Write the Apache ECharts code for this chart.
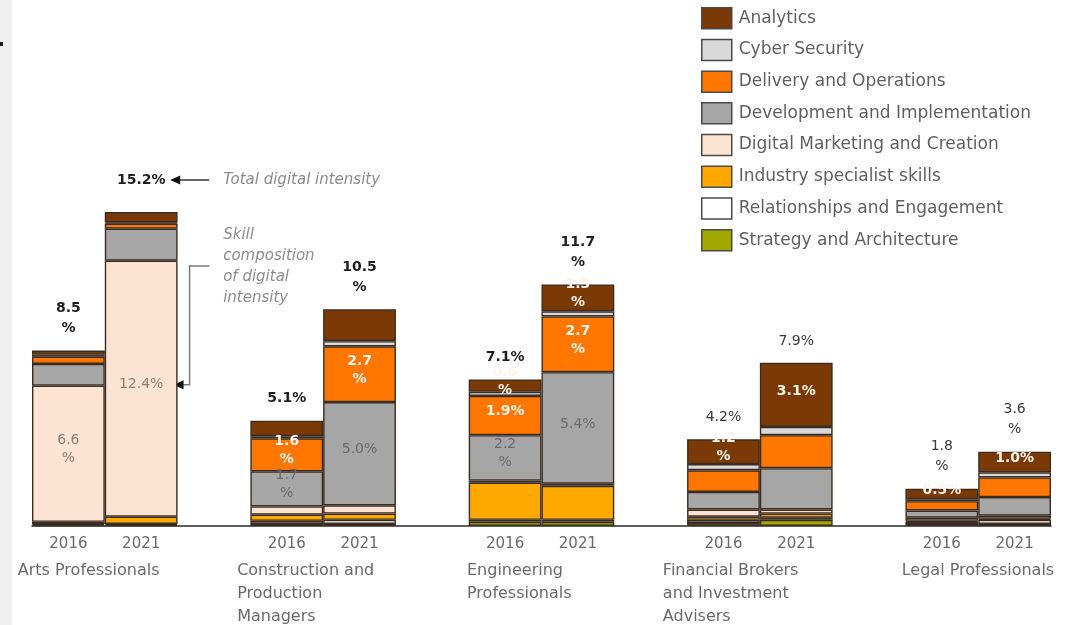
<!DOCTYPE html>
<html>
<head>
<meta charset="utf-8">
<script src="https://cdn.jsdelivr.net/npm/echarts@6/dist/echarts.min.js"></script>
<style>
  html, body { margin: 0; padding: 0; background: #ffffff; }
  #chart { width: 1068px; height: 625px; }
</style>
</head>
<body>
<div id="chart"></div>
<script>
// Occupation groups (tick labels, with their line breaks) and the two survey years
const groups = [
  'Arts Professionals',
  'Construction and\nProduction\nManagers',
  'Engineering\nProfessionals',
  'Financial Brokers\nand Investment\nAdvisers',
  'Legal Professionals'
];
const years = ['2016', '2021'];

// Digital intensity by skill cluster (% of job ads); bars run group by group, 2016 then 2021
const analytics      = [0.2, 0.5, 0.75, 1.55, 0.6, 1.3, 1.2, 3.1, 0.5, 1.0];
const cyberSecurity  = [0.1, 0.05, 0.1, 0.25, 0.2, 0.25, 0.3, 0.4, 0.1, 0.25];
const delivery       = [0.35, 0.25, 1.6, 2.7, 1.9, 2.7, 1.05, 1.6, 0.45, 0.95];
const development    = [1.05, 1.55, 1.7, 5.0, 2.2, 5.4, 0.85, 2.0, 0.35, 0.9];
const digitalMkt     = [6.6, 12.4, 0.4, 0.4, 0.1, 0.1, 0.35, 0.2, 0.15, 0.15];
const industry       = [0.1, 0.35, 0.3, 0.3, 1.8, 1.65, 0.15, 0.2, 0.05, 0.05];
const relationships  = [0.05, 0.05, 0.15, 0.2, 0.1, 0.1, 0.15, 0.1, 0.1, 0.2];
const strategy       = [0.05, 0.05, 0.1, 0.1, 0.2, 0.2, 0.15, 0.3, 0.1, 0.1];

// Stack order, bottom to top
const clusters = [
  { name: 'Strategy and Architecture',       data: strategy,      color: '#A3A800' },
  { name: 'Relationships and Engagement',    data: relationships, color: '#FFFFFF' },
  { name: 'Industry specialist skills',      data: industry,      color: '#FFA800' },
  { name: 'Digital Marketing and Creation',  data: digitalMkt,    color: '#FDE4D2' },
  { name: 'Development and Implementation',  data: development,   color: '#A6A6A6' },
  { name: 'Delivery and Operations',         data: delivery,      color: '#FF7700' },
  { name: 'Cyber Security',                  data: cyberSecurity, color: '#D9D9D9' },
  { name: 'Analytics',                       data: analytics,     color: '#7B3A05' }
];
const legendOrder = [
  'Analytics', 'Cyber Security', 'Delivery and Operations', 'Development and Implementation',
  'Digital Marketing and Creation', 'Industry specialist skills',
  'Relationships and Engagement', 'Strategy and Architecture'
];

// Which segments carry a value label, and whether the % sign drops to a second line
const insideLabels = {
  'Digital Marketing and Creation': { 0: 'wrap', 1: 'flat' },
  'Development and Implementation': { 2: 'wrap', 3: 'flat', 4: 'wrap', 5: 'flat' },
  'Delivery and Operations':        { 2: 'wrap', 3: 'wrap', 4: 'flat', 5: 'wrap' },
  'Analytics':                      { 4: 'wrap', 5: 'wrap', 6: 'wrap', 7: 'flat', 8: 'flat', 9: 'flat' }
};
const insideLabelColor = {
  'Digital Marketing and Creation': '#8e7d72',
  'Development and Implementation': '#6b6b6b',
  'Delivery and Operations': '#FFF3EA',
  'Analytics': '#FFF3EA'
};
const totalWrap = { 0: true, 3: true, 5: true, 8: true, 9: true };
const totalLight = { 6: true, 7: true, 8: true, 9: true };

// Width of the box each group caption is left-aligned in
const captionBox = [174, 172, 149, 194, 153];

// Category slots: two bars per group, an empty slot between groups
const slots = [];
groups.forEach((g, gi) => {
  years.forEach((y, yi) => slots.push({ key: gi + '|' + y, bar: gi * 2 + yi }));
  if (gi < groups.length - 1) slots.push({ key: 'gap' + gi, bar: null });
});
const spread = arr => slots.map(s => (s.bar == null ? null : arr[s.bar]));
const barOfSlot = idx => slots[idx].bar;

const totals = analytics.map((_, i) => clusters.reduce((s, c) => s + c.data[i], 0));

// Edge ticks for the group captions: group centres fall on slot boundaries
const captionTicks = [];
for (let k = 0; k <= slots.length; k++) captionTicks.push('t' + k);
const captionAt = {};
groups.forEach((g, gi) => { captionAt['t' + (gi * 3 + 1)] = gi; });

const fmt = (v, wrap) => v.toFixed(1) + (wrap ? '\n%' : '%');
const FONT = 'DejaVu Sans';

const captionRich = {};
captionBox.forEach((w, gi) => {
  captionRich['g' + gi] = { width: w, align: 'left', fontFamily: FONT, fontSize: 16, lineHeight: 23, color: '#6a6a6a' };
});

const series = clusters.map(c => ({
  name: c.name,
  type: 'bar',
  stack: 'skills',
  barCategoryGap: '0%',
  data: spread(c.data),
  itemStyle: { color: c.color, borderColor: '#3a2c22', borderWidth: 1.4 },
  label: {
    show: !!insideLabels[c.name],
    position: 'inside',
    offset: [0, -4],
    fontFamily: FONT,
    fontSize: 14,
    lineHeight: 18,
    color: insideLabelColor[c.name] || '#333',
    fontWeight: (c.name === 'Analytics' || c.name === 'Delivery and Operations') ? 'bold' : 'normal',
    formatter: p => {
      const spec = insideLabels[c.name];
      const b = barOfSlot(p.dataIndex);
      if (!spec || b == null || !spec[b]) return '';
      return fmt(p.value, spec[b] === 'wrap');
    }
  },
  emphasis: { disabled: true }
}));

// Invisible full-height bar that carries the total label above each stack
series.push({
  name: 'Total digital intensity',
  type: 'bar',
  barGap: '-100%',
  barCategoryGap: '0%',
  z: 1,
  silent: true,
  data: spread(totals).map((v, idx) => {
    if (v == null) return null;
    const b = barOfSlot(idx);
    return {
      value: v,
      label: {
        distance: b === 1 ? 22 : 12,
        fontWeight: totalLight[b] ? 'normal' : 'bold',
        color: totalLight[b] ? '#3a3a3a' : '#1e1e1e'
      }
    };
  }),
  itemStyle: { color: 'rgba(0,0,0,0)' },
  label: {
    show: true,
    position: 'top',
    fontFamily: FONT,
    fontSize: 14,
    lineHeight: 20,
    formatter: p => fmt(p.value, !!totalWrap[barOfSlot(p.dataIndex)])
  },
  emphasis: { disabled: true }
});

const chart = echarts.init(document.getElementById('chart'), null, { renderer: 'canvas' });

chart.setOption({
  backgroundColor: '#ffffff',
  animation: false,
  textStyle: { fontFamily: FONT },
  grid: { left: 32, right: 17, top: 113, bottom: 99 },
  legend: {
    data: legendOrder,
    orient: 'vertical',
    left: 701,
    top: 7,
    padding: 0,
    icon: 'rect',
    itemWidth: 30,
    itemHeight: 21,
    itemGap: 9.2,
    selectedMode: false,
    itemStyle: { borderColor: '#4a4a4a', borderWidth: 1.5 },
    textStyle: { fontFamily: FONT, fontSize: 17, lineHeight: 21, color: '#5f5f5f', padding: [0, 0, 0, 2] }
  },
  xAxis: [
    {
      type: 'category',
      data: slots.map(s => s.key),
      axisLine: { show: true, lineStyle: { color: '#2b2b2b', width: 1.5 } },
      axisTick: { show: false },
      axisLabel: {
        interval: 0,
        margin: 11,
        fontFamily: FONT,
        fontSize: 15,
        color: '#6a6a6a',
        formatter: v => (v.indexOf('|') > 0 ? v.split('|')[1] : '')
      }
    },
    {
      type: 'category',
      position: 'bottom',
      boundaryGap: false,
      data: captionTicks,
      axisLine: { show: false },
      axisTick: { show: false },
      axisLabel: {
        interval: 0,
        margin: 33,
        fontFamily: FONT,
        fontSize: 16,
        color: '#6a6a6a',
        formatter: v => {
          const gi = captionAt[v];
          return gi == null ? '' : '{g' + gi + '|' + groups[gi] + '}';
        },
        rich: captionRich
      }
    }
  ],
  yAxis: { type: 'value', min: 0, max: 20, show: false },
  series: series
});

// Annotations anchored on the Arts Professionals 2021 bar
function annotate() {
  const toPx = (i, v) => chart.convertToPixel({ xAxisIndex: 0, yAxisIndex: 0 }, [i, v]);
  const top = toPx(1, totals[1]);
  const half = (toPx(2, 0)[0] - toPx(1, 0)[0]) / 2;
  const cx = top[0], ty = top[1], right = cx + half;
  const labelY = ty - 32;
  const base = strategy[1] + relationships[1] + industry[1];
  const segY = toPx(1, base + digitalMkt[1] / 2)[1] - 4;
  const grey = '#7a7a7a';
  const note = { fontFamily: FONT, fontSize: 15, fontStyle: 'italic', fill: '#8c8c8c' };

  chart.setOption({
    graphic: [
      { type: 'rect', shape: { x: 0, y: 0, width: 12, height: 625 }, style: { fill: '#efefef' }, silent: true },
      { type: 'rect', shape: { x: 0, y: 42, width: 3, height: 4 }, style: { fill: '#1a1a1a' }, silent: true },
      { type: 'line', shape: { x1: cx + 36, y1: labelY, x2: cx + 68, y2: labelY }, style: { stroke: '#333', lineWidth: 1.5 } },
      { type: 'polygon', shape: { points: [[cx + 29, labelY], [cx + 39, labelY - 4.5], [cx + 39, labelY + 4.5]] }, style: { fill: '#111' } },
      { type: 'text', x: cx + 82, y: labelY, style: Object.assign({ text: 'Total digital intensity', verticalAlign: 'middle' }, note) },
      { type: 'text', x: cx + 82, y: ty + 12, style: Object.assign({ text: 'Skill\ncomposition\nof digital\nintensity', lineHeight: 21, verticalAlign: 'top' }, note) },
      { type: 'polyline', shape: { points: [[right + 32, ty + 54], [right + 12, ty + 54], [right + 12, segY], [right + 4, segY]] }, style: { stroke: grey, lineWidth: 1.5, fill: null } },
      { type: 'polygon', shape: { points: [[right - 4, segY], [right + 6, segY - 4.5], [right + 6, segY + 4.5]] }, style: { fill: '#111' } }
    ]
  });
}
annotate();
</script>
</body>
</html>
